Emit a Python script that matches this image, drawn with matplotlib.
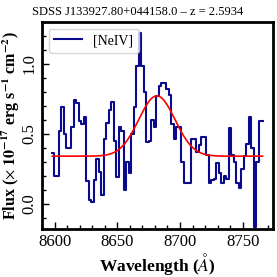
import numpy as np
import matplotlib
matplotlib.use('Agg')
from matplotlib import pyplot as plt
from matplotlib.ticker import MultipleLocator

plt.rcParams['font.family'] = 'serif'
plt.rcParams['font.serif'] = ['Liberation Serif', 'DejaVu Serif']
plt.rcParams['mathtext.fontset'] = 'stix'

# spectrum, 2 A bins
wave_start = 8598
wave_step = 2
flux = [0.36, 0.20, 0.20, 0.52, 0.69, 0.50, 0.40, 0.40, 0.55, 0.74,
        0.72, 0.59, 0.57, 0.62, 0.16, 0.03, 0.01, 0.17, 0.32, 0.23,
        0.06, 0.46, 0.58, 0.67, 0.73, 0.45, 0.19, 0.55, 0.52, 0.10,
        0.30, 0.22, 0.50, 0.69, 0.98, 1.22, 0.98, 0.80, 0.44, 0.45,
        0.60, 0.55, 0.77, 0.84, 0.86, 0.86, 0.82, 0.78, 0.57, 0.46,
        0.55, 0.55, 0.30, 0.15, 0.15, 0.15, 0.46, 0.46, 0.37, 0.42,
        0.48, 0.48, 0.35, 0.15, 0.17, 0.18, 0.29, 0.22, 0.15, 0.20,
        0.18, 0.54, 0.35, 0.30, 0.15, 0.11, 0.25, 0.34, 0.43, 0.62,
        0.40, -0.165, 0.30, 0.59, 0.59]
wave = wave_start + wave_step * np.arange(len(flux))

# gaussian fit of [NeIV]
fit_base = 0.34
fit_amp = 0.43
fit_center = 8681.5
fit_sigma = 14.5

title = 'SDSS J133927.80+044158.0 \u2013 z = 2.5934'

fig = plt.figure(figsize=(2.77, 2.77), dpi=100)
ax = fig.add_axes([0.1505, 0.173, 0.836, 0.749])

ax.step(wave, flux, where='mid', color='#0a0a8c', lw=1.5, label='[NeIV]')
xm = np.linspace(wave[0], wave[-1], 400)
ym = fit_base + fit_amp * np.exp(-0.5 * ((xm - fit_center) / fit_sigma) ** 2)
ax.plot(xm, ym, color='red', lw=1.2)

ax.set_xlim(8589.5, 8774.5)
ax.set_ylim(-0.18, 1.30)
ax.xaxis.set_major_locator(MultipleLocator(50))
ax.xaxis.set_minor_locator(MultipleLocator(10))
ax.yaxis.set_major_locator(MultipleLocator(0.5))
ax.yaxis.set_minor_locator(MultipleLocator(0.1))
ax.tick_params(which='both', direction='in', labelsize=12, width=1.0)
ax.tick_params(which='major', length=5)
ax.tick_params(which='minor', length=3)
ax.tick_params(axis='y', labelrotation=90, pad=3)
for lbl in ax.get_yticklabels():
    lbl.set_va('center')
for s in ax.spines.values():
    s.set_linewidth(2)

fig.text(0.497, 0.958, title, fontsize=9, ha='center', va='center')
ax.set_xlabel(r'Wavelength ($\mathit{\AA}$)', fontsize=12.5, fontweight='bold', labelpad=1)
ax.set_ylabel(r'Flux ($\times$ $\mathbf{10^{-17}}$ erg s$^{\mathbf{-1}}$ cm$^{\mathbf{-2}}$)',
              fontsize=11.5, fontweight='bold')
ax.yaxis.set_label_coords(-0.085, 0.5)
ax.legend(loc='upper left', fontsize=10, handlelength=2.0, borderpad=0.4)

fig.savefig('out.png', dpi=100)
